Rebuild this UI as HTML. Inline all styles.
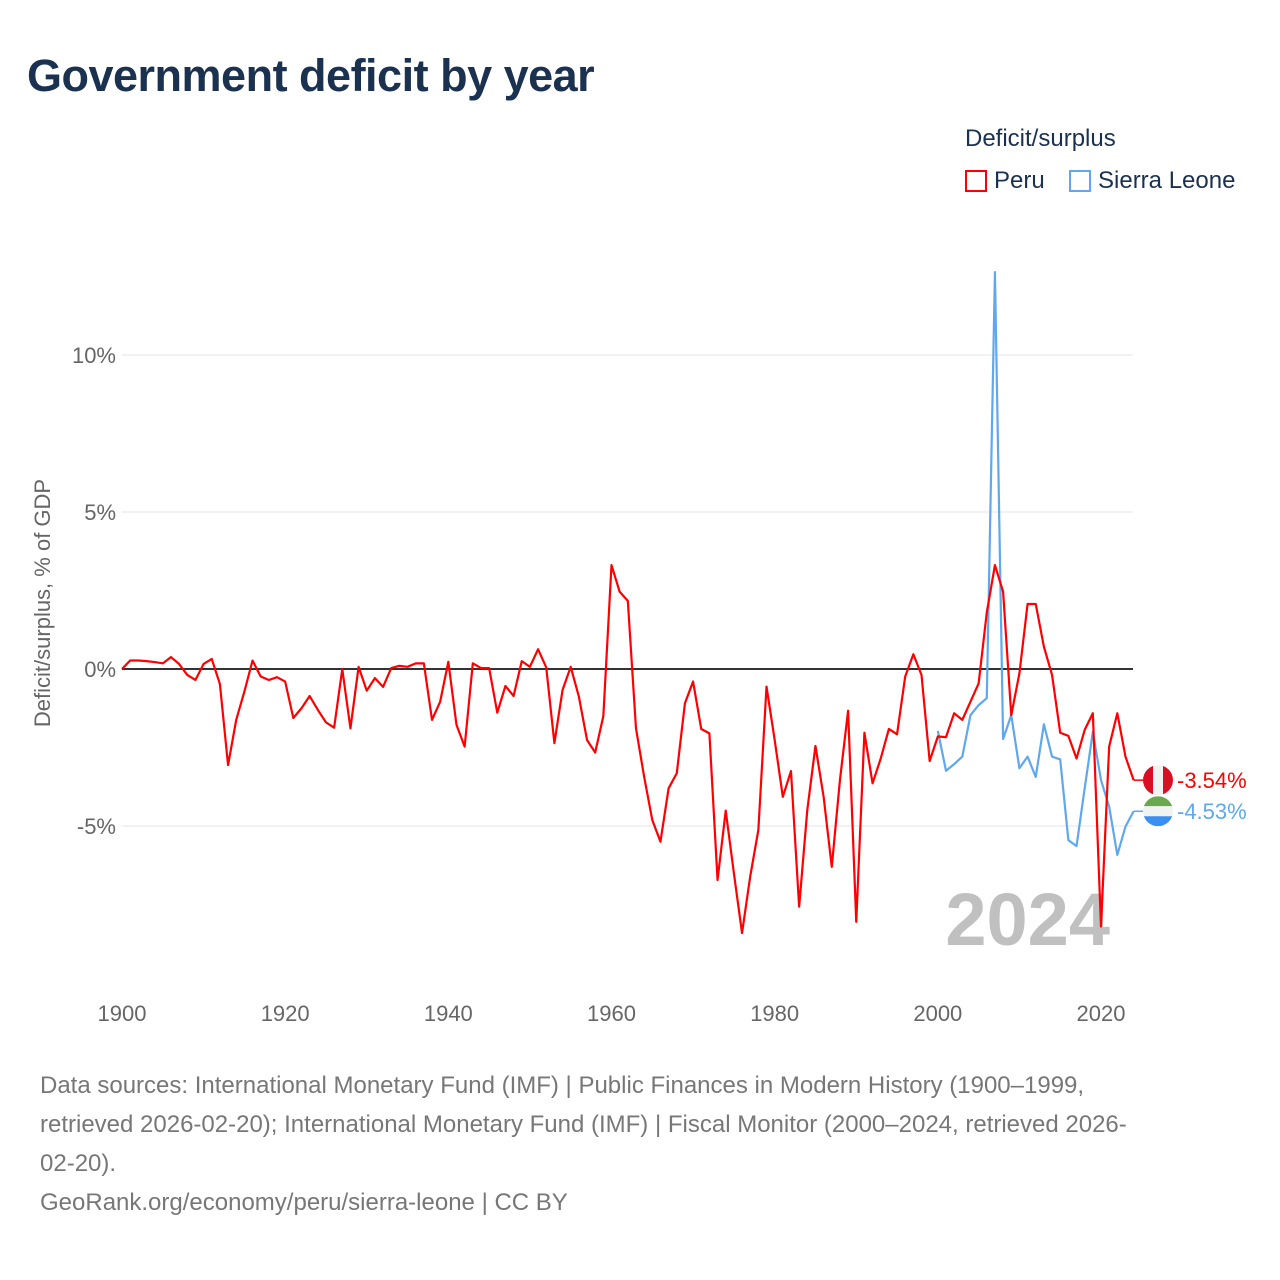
<!DOCTYPE html>
<html><head><meta charset="utf-8">
<style>
body{margin:0;background:#fff;font-family:"Liberation Sans",sans-serif;}
#wrap{position:relative;width:1280px;height:1280px;overflow:hidden;background:#fff}
.title{position:absolute;left:27px;top:50px;font-size:45px;font-weight:bold;color:#1b3150;letter-spacing:-0.5px}
.legend-title{position:absolute;left:965px;top:125px;font-size:24px;color:#1b3150}
.leg{position:absolute;top:167px;font-size:24px;color:#1b3150;display:flex;align-items:center}
.leg span.box{display:inline-block;width:22px;height:22px;border:2px solid;box-sizing:border-box;margin-right:7px;background:#fff}
.footer{position:absolute;left:40px;top:1066px;width:1230px;font-size:24px;line-height:39px;color:#777;white-space:nowrap}
</style></head>
<body>
<div id="wrap">
<div class="title">Government deficit by year</div>
<div class="legend-title">Deficit/surplus</div>
<div class="leg" style="left:965px"><span class="box" style="border-color:#ff0000"></span>Peru</div>
<div class="leg" style="left:1069px"><span class="box" style="border-color:#5fa8ee"></span>Sierra Leone</div>
<svg id="chart" width="1280" height="1280" style="position:absolute;left:0;top:0"></svg>
<div class="footer">Data sources: International Monetary Fund (IMF) | Public Finances in Modern History (1900–1999,<br>retrieved 2026-02-20); International Monetary Fund (IMF) | Fiscal Monitor (2000–2024, retrieved 2026-<br>02-20).<br>GeoRank.org/economy/peru/sierra-leone | CC BY</div>
</div>
<script>
const peruYears = Array.from({length:125},(_, i)=>1900+i);
const peruValues = [0,0.27,0.27,0.25,0.22,0.18,0.38,0.16,-0.19,-0.35,0.16,0.32,-0.48,-3.06,-1.62,-0.72,0.27,-0.24,-0.35,-0.26,
-0.4,-1.56,-1.25,-0.86,-1.3,-1.7,-1.87,0,-1.89,0.07,-0.69,-0.29,-0.57,0.03,0.1,0.07,0.18,0.18,-1.62,-1.04,
0.23,-1.78,-2.47,0.18,0.03,0.03,-1.39,-0.54,-0.86,0.25,0.07,0.63,0.05,-2.36,-0.67,0.07,-0.88,-2.26,-2.66,-1.5,
3.31,2.46,2.17,-1.89,-3.43,-4.81,-5.5,-3.8,-3.32,-1.09,-0.4,-1.91,-2.05,-6.72,-4.51,-6.5,-8.41,-6.61,-5.13,-0.56,
-2.26,-4.07,-3.25,-7.57,-4.49,-2.45,-4.07,-6.3,-3.54,-1.33,-8.05,-2.03,-3.64,-2.85,-1.91,-2.08,-0.24,0.47,-0.19,-2.93,
-2.15,-2.17,-1.41,-1.62,-1.04,-0.46,1.8,3.31,2.46,-1.47,-0.14,2.07,2.07,0.71,-0.19,-2.03,-2.13,-2.85,-1.94,-1.41,
-8.2,-2.47,-1.41,-2.79,-3.54];
const slYears = Array.from({length:25},(_, i)=>2000+i);
const slValues = [-1.97,-3.24,-3.03,-2.79,-1.47,-1.15,-0.93,12.64,-2.23,-1.47,-3.16,-2.79,-3.44,-1.76,-2.79,-2.88,-5.45,-5.64,-3.8,-2.0,
-3.54,-4.38,-5.92,-5.02,-4.53];
const yTicks = [10,5,0,-5];
const xTicks = [1900,1920,1940,1960,1980,2000,2020];

const NS="http://www.w3.org/2000/svg";
const svg=document.getElementById('chart');
const x0=122, pxPerYear=(1101-122)/120, y0=669, pxPerPct=31.4, xRight=1133;
const X=y=>x0+(y-1900)*pxPerYear;
const Y=v=>y0-v*pxPerPct;
function mk(tag,attrs){const e=document.createElementNS(NS,tag);for(const k in attrs)e.setAttribute(k,attrs[k]);svg.appendChild(e);return e;}

yTicks.forEach(t=>{
  const g=mk('line',{x1:x0,x2:xRight,y1:Y(t),y2:Y(t),stroke:t===0?'#333':'#e6e6e6','stroke-width':t===0?2:1});
  
  
  const tx=mk('text',{x:116,y:Y(t)+8,'text-anchor':'end','font-size':22,fill:'#666','font-family':'Liberation Sans, sans-serif'});
  tx.textContent=t+'%';
  
  
});
xTicks.forEach(t=>{
  const tx=mk('text',{x:X(t),y:1021,'text-anchor':'middle','font-size':22,fill:'#666','font-family':'Liberation Sans, sans-serif'});
  tx.textContent=t;
  
  
});
const yt=mk('text',{x:0,y:0,transform:'translate(50,603) rotate(-90)','text-anchor':'middle','font-size':22,fill:'#666','font-family':'Liberation Sans, sans-serif'});
yt.textContent='Deficit/surplus, % of GDP';



const wm=mk('text',{x:1110,y:945,'text-anchor':'end','font-size':74,'font-weight':'bold',fill:'#c0c0c0','font-family':'Liberation Sans, sans-serif'});
wm.textContent='2024';



function series(years,vals,color,name){
  const p=mk('polyline',{points:years.map((y,i)=>X(y)+','+Y(vals[i])).join(' '),fill:'none',stroke:color,'stroke-width':2.2,'stroke-linejoin':'round'});
  
  
}
series(slYears,slValues,'#5fa8ee','sierra-leone-line');
series(peruYears,peruValues,'#ff0000','peru-line');

function endLabel(years,vals,color,name,flag){
  const lx=X(years[years.length-1]), ly=Y(vals[vals.length-1]);
  const l=mk('line',{x1:lx,x2:1146,y1:ly,y2:ly,stroke:color,'stroke-width':1.5});
  
  
  const cx=1158,r=15;
  const clip=mk('clipPath',{id:'c'+name});
  const cc=document.createElementNS(NS,'circle');cc.setAttribute('cx',cx);cc.setAttribute('cy',ly);cc.setAttribute('r',r);clip.appendChild(cc);
  const g=mk('g',{'clip-path':'url(#c'+name+')'});
  
  
  flag.forEach(f=>{const rr=document.createElementNS(NS,'rect');
    for(const k in f)rr.setAttribute(k,f[k]);g.appendChild(rr);});
  const t=mk('text',{x:1177,y:ly+8,'font-size':22,fill:color,'font-family':'Liberation Sans, sans-serif'});
  t.textContent=vals[vals.length-1].toFixed(2)+'%';
  
  
}
const pY=Y(peruValues[peruValues.length-1]), sY=Y(slValues[slValues.length-1]);
endLabel(peruYears,peruValues,'#ff0000','peru',[
  {x:1143,y:pY-15,width:10,height:30,fill:'#d91023'},{x:1153,y:pY-15,width:10,height:30,fill:'#f2f2f2'},{x:1163,y:pY-15,width:10,height:30,fill:'#d91023'}]);
endLabel(slYears,slValues,'#5fa8ee','sierra-leone',[
  {x:1143,y:sY-15,width:30,height:10,fill:'#6aa84f'},{x:1143,y:sY-5,width:30,height:10,fill:'#f2f2f2'},{x:1143,y:sY+5,width:30,height:10,fill:'#3b8ff0'}]);
</script>
</body></html>
